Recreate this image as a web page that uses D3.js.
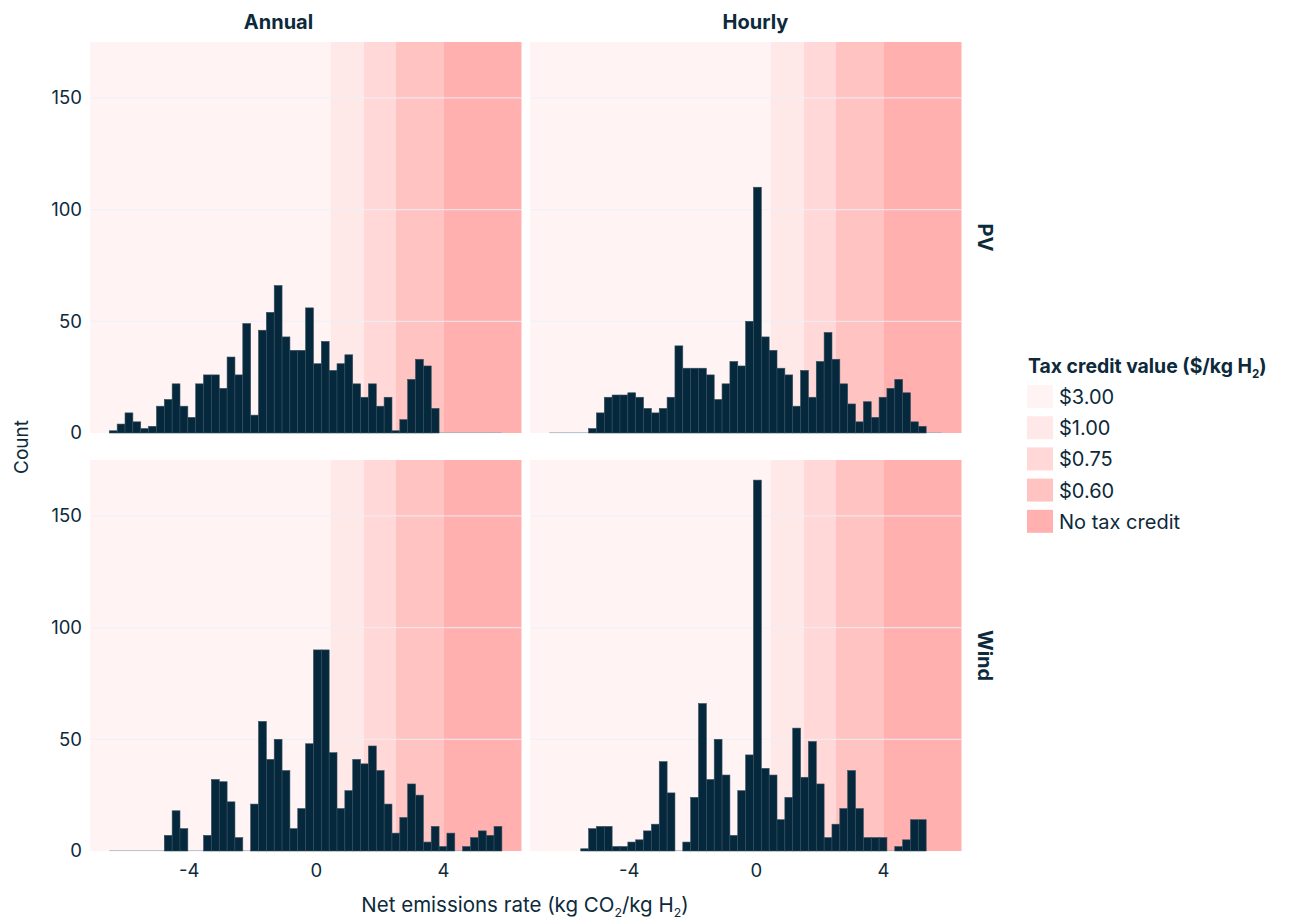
<!DOCTYPE html>
<html>
<head>
<meta charset="utf-8">
<script src="https://cdn.jsdelivr.net/npm/d3@7"></script>
<style>
  html, body { margin: 0; padding: 0; background: #ffffff; }
  svg { display: block; font-family: "Inter", "Noto Sans", sans-serif; }
</style>
</head>
<body>
<svg id="chart" width="1291" height="922"></svg>
<script>
// Facet layout labels
const columns = ["Annual", "Hourly"];
const rows = ["PV", "Wind"];

// Shared histogram bins (kg CO2 / kg H2)
const binStart = -6.51;
const binWidth = 0.247;

// Counts per bin (null = bin outside the series' data range)
const annualPV = [1, 4, 9, 5, 2, 3, 12, 15, 22, 12, 7, 22, 26, 26, 20, 34, 26, 49, 8, 46,
  54, 66, 43, 37, 37, 56, 31, 41, 28, 31, 35, 22, 16, 22, 12, 16, 1, 6, 24, 33,
  30, 11, 0, 0, 0, 0, 0, 0, 0, 0];
const hourlyPV = [0, 0, 0, 0, 0, 2, 9, 16, 17, 17, 18, 16, 11, 9, 11, 16, 39, 29, 29, 29,
  26, 15, 22, 32, 30, 50, 110, 43, 37, 29, 26, 12, 28, 16, 32, 45, 33, 22, 13, 5,
  14, 7, 16, 20, 24, 18, 5, 3, 0, 0];
const annualWind = [0, 0, 0, 0, 0, 0, 0, 7, 18, 10, 0, 0, 7, 32, 31, 22, 6, 0, 21, 58,
  41, 50, 36, 10, 19, 48, 90, 90, 44, 19, 27, 41, 39, 47, 36, 21, 8, 15, 30, 25,
  4, 11, 2, 8, 0, 2, 6, 9, 7, 11];
const hourlyWind = [null, null, null, null, 1, 10, 11, 11, 2, 2, 4, 5, 9, 12, 40, 26, 0, 4, 24, 66,
  32, 50, 34, 7, 27, 43, 166, 37, 34, 14, 24, 55, 33, 49, 30, 6, 12, 19, 36, 19,
  6, 6, 6, 0, 2, 5, 14, 14, null, null];

// Tax credit tiers: upper bounds of each tier, labels and fills
const creditBounds = [0.45, 1.5, 2.5, 4];
const creditLabels = ["$3.00", "$1.00", "$0.75", "$0.60", "No tax credit"];
const creditColors = ["#fff3f3", "#ffe9e8", "#ffd8d7", "#ffc3c2", "#ffb0af"];

// Axis ticks
const xTicks = [-4, 0, 4];
const yTicks = [0, 50, 100, 150];

const seriesByPanel = {
  "Annual|PV": annualPV, "Hourly|PV": hourlyPV,
  "Annual|Wind": annualWind, "Hourly|Wind": hourlyWind
};

const ink = "#0d2a3b";
const barFill = "#06283c";
const xDomain = [-7.118, 6.457];
const yDomain = [0, 175];
const panelLeft = { Annual: 90, Hourly: 530 };
const panelTop = { PV: 42, Wind: 460 };
const panelW = 431.5, panelH = 391;
const tickSize = 18.5;

const svg = d3.select("#chart");

columns.forEach(col => {
  rows.forEach(row => {
    const x0 = panelLeft[col], y0 = panelTop[row];
    const x = d3.scaleLinear().domain(xDomain).range([x0, x0 + panelW]);
    const y = d3.scaleLinear().domain(yDomain).range([y0 + panelH, y0]);
    const g = svg.append("g");

    // Tax credit tier bands
    const edges = [xDomain[0], ...creditBounds, xDomain[1]];
    g.selectAll("rect.band").data(creditColors).join("rect")
      .attr("class", "band")
      .attr("x", (d, i) => x(edges[i]))
      .attr("width", (d, i) => x(edges[i + 1]) - x(edges[i]))
      .attr("y", y0).attr("height", panelH)
      .attr("fill", d => d);

    // Horizontal grid
    g.selectAll("line.grid").data(yTicks.filter(t => t > 0)).join("line")
      .attr("class", "grid")
      .attr("x1", x0).attr("x2", x0 + panelW)
      .attr("y1", d => y(d)).attr("y2", d => y(d))
      .attr("stroke", "rgba(236,240,250,0.75)").attr("stroke-width", 1.2);

    // Histogram bars
    const counts = seriesByPanel[col + "|" + row];
    const bins = counts.map((c, i) => ({ c, lo: binStart + i * binWidth, hi: binStart + (i + 1) * binWidth }))
      .filter(b => b.c !== null);

    g.selectAll("line.empty").data(bins.filter(b => b.c === 0)).join("line")
      .attr("class", "empty")
      .attr("x1", b => x(b.lo)).attr("x2", b => x(b.hi))
      .attr("y1", y(0) - 0.4).attr("y2", y(0) - 0.4)
      .attr("stroke", "#9fb0bd").attr("stroke-width", 0.8);

    g.selectAll("rect.bar").data(bins.filter(b => b.c > 0)).join("rect")
      .attr("class", "bar")
      .attr("x", b => x(b.lo))
      .attr("width", b => x(b.hi) - x(b.lo))
      .attr("y", b => y(b.c))
      .attr("height", b => y(0) - y(b.c))
      .attr("fill", barFill)
      .attr("stroke", "#34505f").attr("stroke-width", 0.6);

    // Y tick labels on the left column only
    if (col === "Annual") {
      g.selectAll("text.ytick").data(yTicks).join("text")
        .attr("class", "ytick")
        .attr("x", x0 - 8).attr("y", d => y(d))
        .attr("dy", "0.35em").attr("text-anchor", "end")
        .attr("font-size", tickSize).attr("fill", ink)
        .text(d => d);
    }
    // X tick labels on the bottom row only
    if (row === "Wind") {
      g.selectAll("text.xtick").data(xTicks).join("text")
        .attr("class", "xtick")
        .attr("x", d => x(d)).attr("y", y0 + panelH + 26)
        .attr("text-anchor", "middle")
        .attr("font-size", tickSize).attr("fill", ink)
        .text(d => d);
    }
  });
});

// Column strip titles
const colTitleX = { Annual: 278.5, Hourly: 755.5 };
svg.selectAll("text.coltitle").data(columns).join("text")
  .attr("class", "coltitle")
  .attr("x", d => colTitleX[d]).attr("y", 29)
  .attr("text-anchor", "middle").attr("font-size", 20).attr("font-weight", 700)
  .attr("fill", ink).text(d => d);

// Row strip titles
svg.selectAll("text.rowtitle").data(rows).join("text")
  .attr("class", "rowtitle")
  .attr("transform", d => `translate(978,${panelTop[d] + panelH / 2}) rotate(90)`)
  .attr("text-anchor", "middle").attr("font-size", 20).attr("font-weight", 700)
  .attr("fill", ink).text(d => d);

// Axis titles
svg.append("text")
  .attr("transform", "translate(28,447) rotate(-90)")
  .attr("text-anchor", "middle").attr("font-size", 19).attr("fill", ink)
  .text("Count");

function withSubscripts(sel, parts, size) {
  parts.forEach(p => {
    if (p.sub) {
      sel.append("tspan").attr("font-size", size * 0.6).attr("dy", 5).text(p.t);
    } else {
      sel.append("tspan").attr("dy", p.reset ? -5 : 0).text(p.t);
    }
  });
}

const xTitle = svg.append("text")
  .attr("x", 525).attr("y", 912)
  .attr("text-anchor", "middle").attr("font-size", 20.5).attr("fill", ink);
withSubscripts(xTitle, [
  { t: "Net emissions rate (kg CO" }, { t: "2", sub: true },
  { t: "/kg H", reset: true }, { t: "2", sub: true }, { t: ")", reset: true }
], 20.5);

// Legend
const legend = svg.append("g");
const legendTitle = legend.append("text")
  .attr("x", 1028).attr("y", 373)
  .attr("font-size", 19.4).attr("font-weight", 700).attr("fill", ink);
withSubscripts(legendTitle, [
  { t: "Tax credit value ($/kg H" }, { t: "2", sub: true }, { t: ")", reset: true }
], 19.4);

const items = legend.selectAll("g.item").data(creditLabels).join("g")
  .attr("class", "item")
  .attr("transform", (d, i) => `translate(1027,${385 + i * 31.2})`);
items.append("rect")
  .attr("width", 26).attr("height", 23)
  .attr("fill", (d, i) => creditColors[i]);
items.append("text")
  .attr("x", 32).attr("y", 19)
  .attr("font-size", 20).attr("fill", ink)
  .text(d => d);
</script>
</body>
</html>
